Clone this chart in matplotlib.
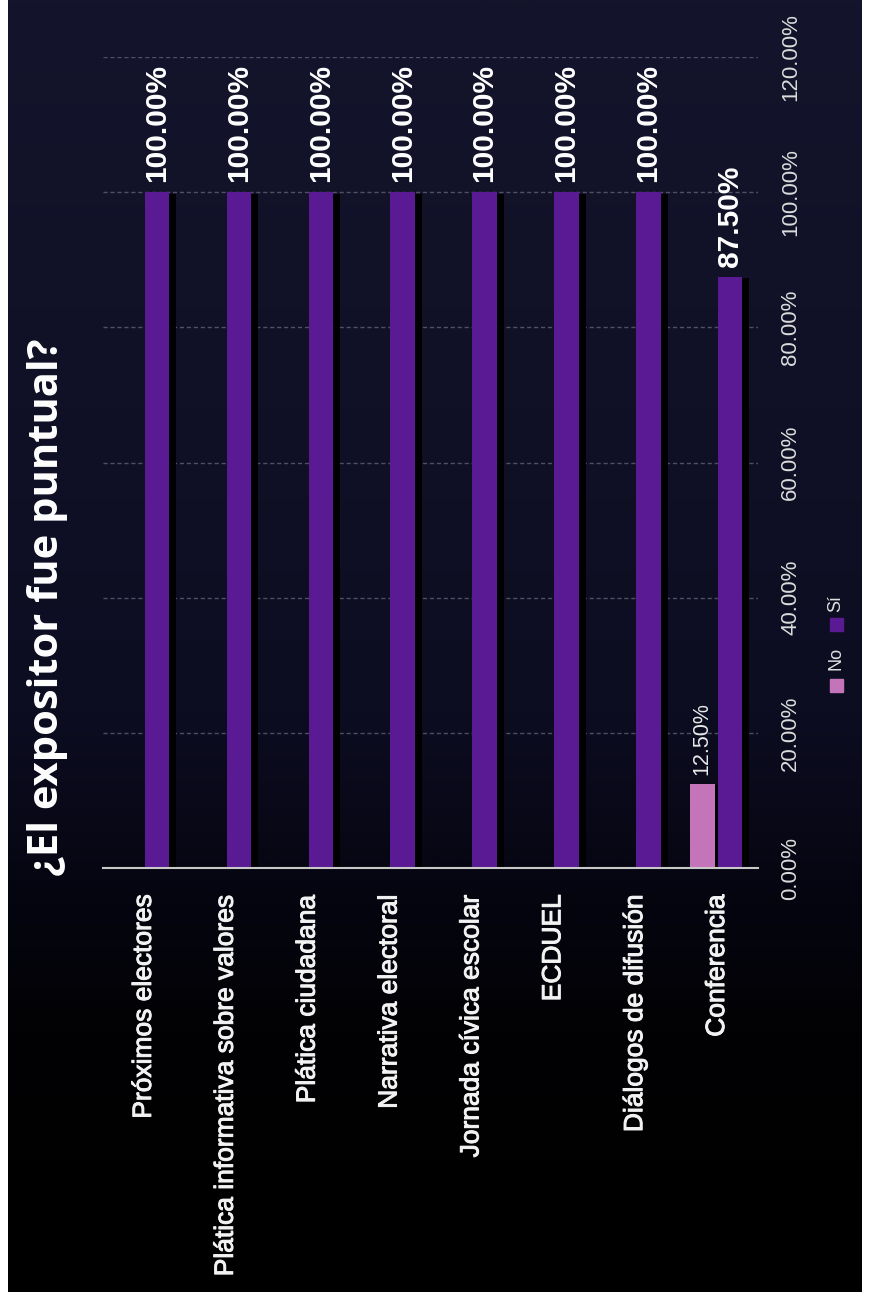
import numpy as np
import matplotlib
matplotlib.use("Agg")
import matplotlib.pyplot as plt
from matplotlib.patches import Rectangle
from matplotlib.colors import LinearSegmentedColormap
import matplotlib.patheffects as pe

title = "¿El expositor fue puntual?"
categories = ["Próximos electores", "Plática informativa sobre valores", "Plática ciudadana",
              "Narrativa electoral", "Jornada cívica escolar", "ECDUEL",
              "Diálogos de difusión", "Conferencia"]
series_names = ["No", "Sí"]
no_values = [0, 0, 0, 0, 0, 0, 0, 12.5]
si_values = [100, 100, 100, 100, 100, 100, 100, 87.5]
value_ticks = [0, 20, 40, 60, 80, 100, 120]

NO_COLOR = "#c474b9"
SI_COLOR = "#5a1a93"
FONT = ["Liberation Sans", "DejaVu Sans"]

W, H = 869, 1298
fig = plt.figure(figsize=(W / 100, H / 100), dpi=100, facecolor="white")

# dark background panel with gradient
bg = fig.add_axes([8 / W, 6 / H, 854 / W, 1292 / H])
cmap = LinearSegmentedColormap.from_list(
    "bg", [(0, "#14142c"), (0.55, "#0d0d22"), (0.7, "#050510"), (0.8, "#020204"), (1, "#000000")])
bg.imshow(np.linspace(0, 1, 512)[:, None], aspect="auto", cmap=cmap,
          extent=[0, 1, 0, 1], origin="upper")
bg.set_axis_off()

ax = fig.add_axes([103 / W, (H - 868) / H, 655 / W, 811 / H])
ax.set_facecolor("none")

x = np.arange(len(categories))
bw = 0.3
shadow = [pe.SimplePatchShadow(offset=(5, -1), shadow_rgbFace="black", alpha=0.95), pe.Normal()]
no_bars = ax.bar(x - 0.18, no_values, bw, color=NO_COLOR, zorder=3, path_effects=shadow)
si_bars = ax.bar(x + 0.16, si_values, bw, color=SI_COLOR, zorder=3, path_effects=shadow)

for xi, v in zip(x, si_values):
    ax.annotate(f"{v:.2f}%", (xi + 0.16, v), xytext=(0, 7), textcoords="offset points",
                rotation=90, ha="center", va="bottom", color="white", fontsize=21.5,
                fontweight="bold", family=FONT)
for xi, v in zip(x, no_values):
    if v > 0:
        ax.annotate(f"{v:.2f}%", (xi - 0.18, v), xytext=(0, 6), textcoords="offset points",
                    rotation=90, ha="center", va="bottom", color="#e8e8e8", fontsize=15.5,
                    family=FONT)

ax.set_xlim(-0.5, len(categories) - 0.5)
ax.set_ylim(0, 120)
ax.set_yticks(value_ticks)
ax.set_yticklabels([f"{t:.2f}%" for t in value_ticks])
ax.yaxis.tick_right()
ax.tick_params(axis="y", length=0, pad=16, labelsize=16, labelcolor="#dcdcdc",
               labelrotation=90)
for lab in ax.get_yticklabels():
    lab.set_family(FONT)
    lab.set_va("center")

ax.set_xticks(x)
ax.set_xticklabels(categories, rotation=90, ha="center", va="top", family=FONT)
ax.tick_params(axis="x", length=0, pad=19, labelsize=19, labelcolor="#f2f2f2")
for lab in ax.get_xticklabels():
    lab.set_path_effects([pe.withStroke(linewidth=0.7, foreground="#f2f2f2")])

ax.yaxis.grid(True, color="#6a6a80", lw=1, ls=(0, (3, 2)), alpha=0.7, zorder=0)
ax.set_axisbelow(True)
for s in ["top", "left", "right"]:
    ax.spines[s].set_visible(False)
ax.spines["bottom"].set_color("#c8c8c8")
ax.spines["bottom"].set_linewidth(1.5)
ax.spines["bottom"].set_zorder(4)

fig.text(48 / W, 1 - 607 / H, title, rotation=90, ha="center", va="center",
         fontsize=30, fontweight="bold", color="white",
         family=["Open Sans", "DejaVu Sans"])

# legend (drawn rotated, like the rest of the chart)
leg_x = 836
for name, col, sq_y, txt_y in [(series_names[0], NO_COLOR, 685, 658),
                              (series_names[1], SI_COLOR, 624, 604)]:
    fig.patches.append(Rectangle(((leg_x - 6.5) / W, 1 - (sq_y + 6.5) / H), 13 / W, 13 / H,
                                 transform=fig.transFigure, color=col))
    fig.text(leg_x / W, 1 - txt_y / H, name, rotation=90, ha="center", va="center",
             fontsize=13, color="#e0e0e0", family=FONT)

fig.savefig("out.png", dpi=100, facecolor=fig.get_facecolor())
